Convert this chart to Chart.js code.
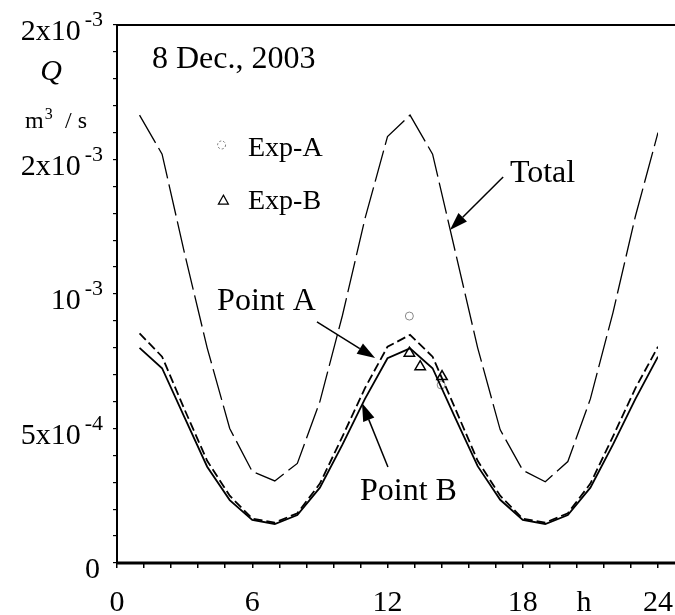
<!DOCTYPE html>
<html>
<head>
<meta charset="utf-8">
<script src="https://cdn.jsdelivr.net/npm/chart.js@4/dist/chart.umd.min.js"></script>
<style>
  html, body { margin: 0; padding: 0; background: #fff; }
  #chart { display: block; }
</style>
</head>
<body>
<canvas id="chart" width="675" height="615"></canvas>
<script>
// ── Data (Q in units of 1e-4 m^3/s) ─────────────────────────────
const hours  = [1, 2, 3, 4, 5, 6, 7, 8, 9, 10, 11, 12, 13, 14, 15, 16, 17, 18, 19, 20, 21, 22, 23, 24];
const totalQ = [16.65, 15.2, 11.5, 8.0, 5.0, 3.4, 3.05, 3.7, 6.0, 9.2, 12.8, 15.85,
                16.65, 15.2, 11.6, 8.0, 4.95, 3.45, 3.02, 3.77, 6.1, 9.3, 12.9, 16.0];
const pointAQ = [8.54, 7.67, 5.7, 3.8, 2.5, 1.65, 1.5, 1.85, 2.95, 4.7, 6.5, 8.04,
                 8.48, 7.67, 5.75, 3.8, 2.5, 1.65, 1.5, 1.85, 2.95, 4.7, 6.5, 8.04];
const pointBQ = [8.0, 7.24, 5.4, 3.58, 2.34, 1.6, 1.45, 1.78, 2.8, 4.4, 6.1, 7.61,
                 7.98, 7.24, 5.4, 3.6, 2.35, 1.6, 1.45, 1.78, 2.8, 4.4, 6.1, 7.67];
const expAHours = [12.97, 14.38];
const expAQ     = [9.18, 6.62];
const expBHours = [12.97, 13.45, 14.42];
const expBQ     = [7.8, 7.3, 6.93];

// tick labels
const xTickValues = [0, 6, 12, 18, 24];
const yTickValues = [0, 5e-4, 1e-3, 1.5e-3, 2e-3];
const yTickBase   = ['0', '5x10', '10', '2x10', '2x10'];
const yTickSup    = ['', '-4', '-3', '-3', '-3'];

const E4 = 1e-4;
const pts = (xs, ys) => xs.map((x, i) => ({ x: x, y: ys[i] * E4 }));
const SERIF = '"Liberation Serif", "Times New Roman", serif';

// ── Text, legend and arrows drawn over the chart ────────────────
const overlay = {
  id: 'overlay',
  afterDraw(chart) {
    const ctx = chart.ctx;
    const xs = chart.scales.x, ys = chart.scales.y;
    const px = h => xs.getPixelForValue(h);
    const py = q => ys.getPixelForValue(q);
    const a = chart.chartArea;
    ctx.save();
    ctx.fillStyle = '#000';
    ctx.strokeStyle = '#000';

    // frame lines
    ctx.lineWidth = 2;
    ctx.beginPath();
    ctx.moveTo(a.left, a.top); ctx.lineTo(675, a.top);
    ctx.moveTo(a.left, a.top); ctx.lineTo(a.left, a.bottom);
    ctx.stroke();
    ctx.lineWidth = 3;
    ctx.beginPath();
    ctx.moveTo(a.left - 1, a.bottom); ctx.lineTo(675, a.bottom);
    ctx.stroke();

    // y tick labels with superscripts
    ctx.textBaseline = 'alphabetic';
    ctx.textAlign = 'left';
    yTickValues.forEach((v, i) => {
      const base = yTickBase[i], sup = yTickSup[i];
      ctx.font = '30px ' + SERIF;
      const bw = ctx.measureText(base).width;
      ctx.font = '22px ' + SERIF;
      const sw = sup ? ctx.measureText(sup).width + 4 : 0;
      const right = sup ? 103 : 100;
      const x0 = right - sw - bw;
      const yb = py(v) + 15;
      ctx.font = '30px ' + SERIF;
      ctx.fillText(base, x0, yb);
      if (sup) {
        ctx.font = '22px ' + SERIF;
        ctx.fillText(sup, x0 + bw + 4, yb - 14);
      }
    });

    // x tick labels
    ctx.font = '30px ' + SERIF;
    ctx.textAlign = 'center';
    xTickValues.forEach(v => ctx.fillText(String(v), px(v), 611));
    ctx.fillText('h', px(20.72), 611);

    // axis title
    ctx.font = 'italic 30px ' + SERIF;
    ctx.fillText('Q', 51, 80);
    ctx.textAlign = 'left';
    ctx.font = '24px ' + SERIF;
    ctx.fillText('m', 25, 128);
    const mw = ctx.measureText('m').width;
    ctx.font = '16px ' + SERIF;
    ctx.fillText('3', 25 + mw + 1, 119);
    ctx.font = '24px ' + SERIF;
    ctx.fillText('/ s', 65, 128);

    // date and annotations
    ctx.font = '32px ' + SERIF;
    ctx.fillText('8 Dec., 2003', px(1.55), py(1.84e-3));
    ctx.fillText('Point A', px(4.44), py(0.94e-3));
    ctx.fillText('Point B', px(10.78), py(0.234e-3));
    ctx.fillText('Total', px(17.43), py(1.416e-3));

    // legend
    ctx.font = '28px ' + SERIF;
    ctx.fillText('Exp-A', px(5.81), py(1.513e-3));
    ctx.fillText('Exp-B', px(5.81), py(1.316e-3));
    ctx.lineWidth = 1;
    ctx.strokeStyle = '#777';
    ctx.setLineDash([2, 2]);
    ctx.beginPath();
    ctx.arc(px(4.64), py(1.554e-3), 4, 0, Math.PI * 2);
    ctx.stroke();
    ctx.setLineDash([]);
    ctx.strokeStyle = '#000';
    ctx.lineWidth = 1.2;
    const tx = px(4.72), ty = py(1.349e-3);
    ctx.beginPath();
    ctx.moveTo(tx, ty - 5); ctx.lineTo(tx + 5, ty + 4); ctx.lineTo(tx - 5, ty + 4);
    ctx.closePath();
    ctx.stroke();

    // arrows
    const arrow = (h1, q1, h2, q2) => {
      const x1 = px(h1), y1 = py(q1), x2 = px(h2), y2 = py(q2);
      const ang = Math.atan2(y2 - y1, x2 - x1);
      const L = 18, W = 6;
      const bx = x2 - L * Math.cos(ang), by = y2 - L * Math.sin(ang);
      ctx.lineWidth = 1.5;
      ctx.beginPath();
      ctx.moveTo(x1, y1); ctx.lineTo(bx, by);
      ctx.stroke();
      ctx.beginPath();
      ctx.moveTo(x2, y2);
      ctx.lineTo(bx + W * Math.sin(ang), by - W * Math.cos(ang));
      ctx.lineTo(bx - W * Math.sin(ang), by + W * Math.cos(ang));
      ctx.closePath();
      ctx.fill();
    };
    arrow(8.87, 0.896e-3, 11.45, 0.762e-3);
    arrow(12.02, 0.357e-3, 10.87, 0.595e-3);
    arrow(17.13, 1.435e-3, 14.77, 1.238e-3);

    ctx.restore();
  }
};

// ── Chart ───────────────────────────────────────────────────────
new Chart(document.getElementById('chart'), {
  type: 'line',
  data: {
    datasets: [
      {
        label: 'Total',
        data: pts(hours, totalQ),
        borderColor: '#000',
        borderWidth: 1.3,
        borderDash: [32, 6],
        pointRadius: 0,
        tension: 0
      },
      {
        label: 'Point A',
        data: pts(hours, pointAQ),
        borderColor: '#000',
        borderWidth: 1.8,
        borderDash: [9, 4],
        pointRadius: 0,
        tension: 0
      },
      {
        label: 'Point B',
        data: pts(hours, pointBQ),
        borderColor: '#000',
        borderWidth: 1.8,
        pointRadius: 0,
        tension: 0
      },
      {
        label: 'Exp-A',
        data: pts(expAHours, expAQ),
        showLine: false,
        pointStyle: 'circle',
        pointRadius: 4,
        pointBorderWidth: 1,
        pointBorderColor: '#888',
        pointBackgroundColor: 'rgba(255,255,255,0)'
      },
      {
        label: 'Exp-B',
        data: pts(expBHours, expBQ),
        showLine: false,
        pointStyle: 'triangle',
        pointRadius: 6,
        pointBorderWidth: 1.5,
        pointBorderColor: '#000',
        pointBackgroundColor: '#fff'
      }
    ]
  },
  options: {
    responsive: false,
    animation: false,
    devicePixelRatio: 1,
    layout: { padding: { left: 0, top: 25, right: 17, bottom: 0 } },
    plugins: { legend: { display: false }, tooltip: { enabled: false } },
    scales: {
      x: {
        type: 'linear',
        min: 0, max: 24,
        afterFit: s => { s.height = 52; },
        ticks: { stepSize: 1.2, callback: () => '', autoSkip: false, maxRotation: 0 },
        grid: { drawOnChartArea: false, drawTicks: true, tickLength: 5, color: '#000', lineWidth: 1.5 },
        border: { display: false }
      },
      y: {
        min: 0, max: 2e-3,
        afterFit: s => { s.width = 117; },
        ticks: { stepSize: 1e-4, callback: () => '', autoSkip: false },
        grid: { drawOnChartArea: false, drawTicks: true, tickLength: 4, color: '#000', lineWidth: 1.2 },
        border: { display: false }
      }
    }
  },
  plugins: [overlay]
});
</script>
</body>
</html>
